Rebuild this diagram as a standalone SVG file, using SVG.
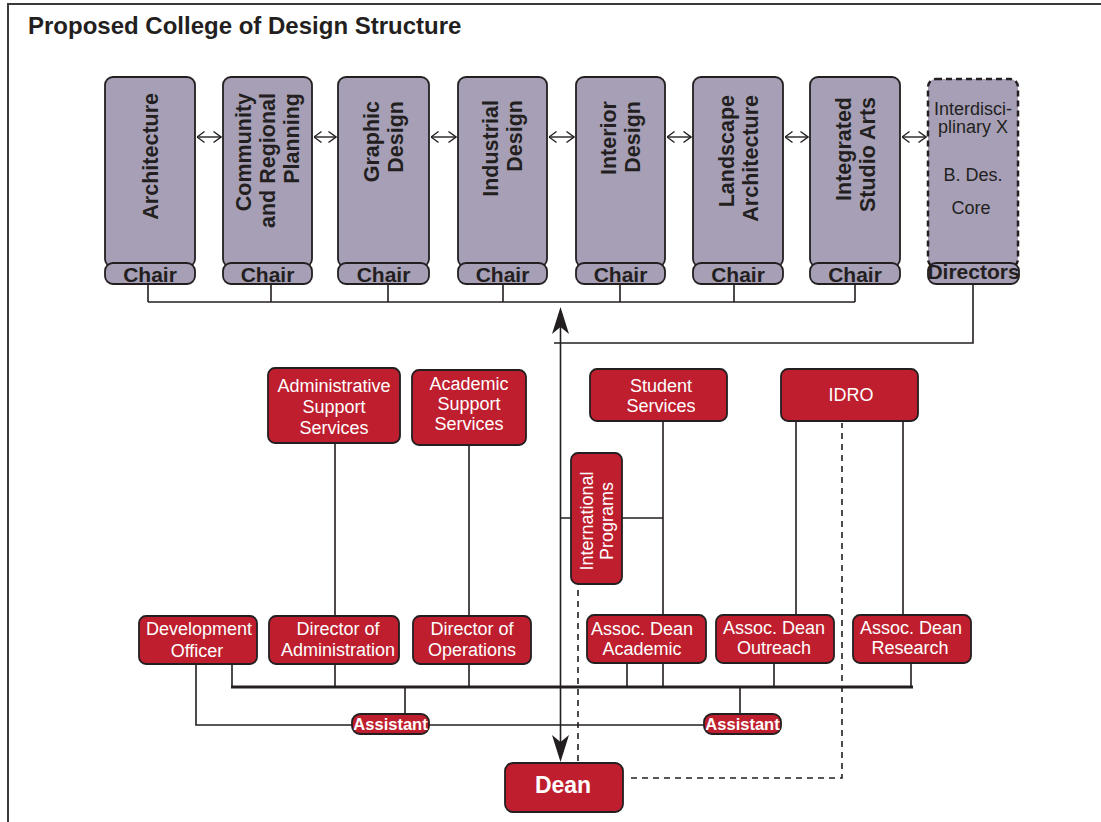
<svg xmlns="http://www.w3.org/2000/svg" width="1101" height="822" viewBox="0 0 1101 822">
<defs>
<style>
.frame{fill:#fff;stroke:#3a3a3a;stroke-width:2}
.title{font-family:"Liberation Sans",Arial,sans-serif;font-weight:bold;font-size:24px;fill:#231f20}
.col{fill:#a69fb6;stroke:#231f20;stroke-width:1.8}
.dash{fill:#a69fb6;stroke:#231f20;stroke-width:2.5;stroke-dasharray:6 4}
.ctext{font-family:"Liberation Sans",Arial,sans-serif;font-weight:bold;font-size:21.5px;fill:#231f20}
.chair{font-family:"Liberation Sans",Arial,sans-serif;font-weight:bold;font-size:21px;fill:#231f20;text-anchor:middle}
.itext{font-family:"Liberation Sans",Arial,sans-serif;font-size:18px;fill:#231f20;text-anchor:middle}
.red{fill:#be1e2d;stroke:#231f20;stroke-width:1.8}
.rtext{font-family:"Liberation Sans",Arial,sans-serif;font-size:18px;fill:#fff;text-anchor:middle}
.atext{font-family:"Liberation Sans",Arial,sans-serif;font-weight:bold;font-size:16.5px;fill:#fff;text-anchor:middle}
.dtext{font-family:"Liberation Sans",Arial,sans-serif;font-weight:bold;font-size:23px;fill:#fff;text-anchor:middle}
.ln{fill:none;stroke:#231f20;stroke-width:1.6}
.dbl{fill:none;stroke:#231f20;stroke-width:1.4}
.bus{fill:none;stroke:#231f20;stroke-width:3}
.dl{fill:none;stroke:#231f20;stroke-width:1.6;stroke-dasharray:6 5}
.head{fill:#231f20;stroke:none}
</style>
<marker id="oa" viewBox="0 0 10 14" refX="9.5" refY="7" markerWidth="10" markerHeight="14" markerUnits="userSpaceOnUse" orient="auto-start-reverse">
<path d="M2,1.5 L9.5,7 L2,12.5" fill="none" stroke="#231f20" stroke-width="1.4"/>
</marker>
</defs>

<rect class="frame" x="8" y="4" width="1110" height="840"/>
<text class="title" x="28" y="34">Proposed College of Design Structure</text>

<g id="connectors">
<line class="dbl" x1="197" y1="137" x2="221" y2="137" marker-start="url(#oa)" marker-end="url(#oa)"/>
<line class="dbl" x1="314" y1="137" x2="336" y2="137" marker-start="url(#oa)" marker-end="url(#oa)"/>
<line class="dbl" x1="431" y1="137" x2="456" y2="137" marker-start="url(#oa)" marker-end="url(#oa)"/>
<line class="dbl" x1="549" y1="137" x2="574" y2="137" marker-start="url(#oa)" marker-end="url(#oa)"/>
<line class="dbl" x1="667" y1="137" x2="691" y2="137" marker-start="url(#oa)" marker-end="url(#oa)"/>
<line class="dbl" x1="785" y1="137" x2="808" y2="137" marker-start="url(#oa)" marker-end="url(#oa)"/>
<line class="dbl" x1="902" y1="137" x2="926" y2="137" marker-start="url(#oa)" marker-end="url(#oa)"/>
<path class="ln" d="M148,284 V302 M271,284 V302 M388,284 V302 M503,284 V302 M620,284 V302 M734,284 V302 M855,284 V302 M148,302 H855"/>
<path class="ln" stroke-width="2.2" d="M973,284 V343 H554"/>
<line class="ln" stroke-width="2" x1="560.5" y1="320" x2="560.5" y2="750"/>
<path class="head" d="M560.5,307 L569,334 L560.5,327 L552,334 Z"/>
<path class="head" d="M560.5,762 L569,735 L560.5,742 L552,735 Z"/>
<path class="ln" d="M663,421 V687 M560,518 H663"/>
<path class="ln" d="M335,443 V616 M469,445 V616"/>
<path class="ln" d="M796,421 V616 M903,421 V616"/>
<path class="ln" d="M232,664 V687 M335,664 V687 M469,664 V687 M627,663 V687 M774,663 V687 M911,663 V687 M405,687 V714 M740,687 V714"/>
<line class="bus" x1="231" y1="687" x2="913" y2="687"/>
<path class="ln" d="M196,664 V725 H704"/>
<path class="dl" d="M578,590 V762"/>
<path class="dl" d="M631,778 H842 V423"/>
</g>

<g id="architecture">
<rect class="col" x="105" y="77" width="90" height="190" rx="8"/>
<rect class="col" x="105" y="263" width="90" height="21" rx="8"/>
<text class="ctext" transform="translate(150,93) rotate(-90)" text-anchor="end"><tspan x="0" y="7.5">Architecture</tspan></text>
<text class="chair" x="150" y="282">Chair</text>
</g>
<g id="community-regional-planning">
<rect class="col" x="223" y="77" width="89" height="190" rx="8"/>
<rect class="col" x="223" y="263" width="89" height="21" rx="8"/>
<text class="ctext" transform="translate(267.5,93) rotate(-90)" text-anchor="end"><tspan x="0" y="-16.5">Community</tspan><tspan x="0" y="7.5">and Regional</tspan><tspan x="0" y="31.5">Planning</tspan></text>
<text class="chair" x="267.5" y="282">Chair</text>
</g>
<g id="graphic-design">
<rect class="col" x="338" y="77" width="91" height="190" rx="8"/>
<rect class="col" x="338" y="263" width="91" height="21" rx="8"/>
<text class="ctext" transform="translate(383.5,101) rotate(-90)" text-anchor="end"><tspan x="0" y="-4.5">Graphic</tspan><tspan x="0" y="19.5">Design</tspan></text>
<text class="chair" x="383.5" y="282">Chair</text>
</g>
<g id="industrial-design">
<rect class="col" x="458" y="77" width="89" height="190" rx="8"/>
<rect class="col" x="458" y="263" width="89" height="21" rx="8"/>
<text class="ctext" transform="translate(502.5,100) rotate(-90)" text-anchor="end"><tspan x="0" y="-4.5">Industrial</tspan><tspan x="0" y="19.5">Design</tspan></text>
<text class="chair" x="502.5" y="282">Chair</text>
</g>
<g id="interior-design">
<rect class="col" x="576" y="77" width="89" height="190" rx="8"/>
<rect class="col" x="576" y="263" width="89" height="21" rx="8"/>
<text class="ctext" transform="translate(620.5,101) rotate(-90)" text-anchor="end"><tspan x="0" y="-4.5">Interior</tspan><tspan x="0" y="19.5">Design</tspan></text>
<text class="chair" x="620.5" y="282">Chair</text>
</g>
<g id="landscape-architecture">
<rect class="col" x="693" y="77" width="90" height="190" rx="8"/>
<rect class="col" x="693" y="263" width="90" height="21" rx="8"/>
<text class="ctext" transform="translate(738,95) rotate(-90)" text-anchor="end"><tspan x="0" y="-4.5">Landscape</tspan><tspan x="0" y="19.5">Architecture</tspan></text>
<text class="chair" x="738" y="282">Chair</text>
</g>
<g id="integrated-studio-arts">
<rect class="col" x="810" y="77" width="90" height="190" rx="8"/>
<rect class="col" x="810" y="263" width="90" height="21" rx="8"/>
<text class="ctext" transform="translate(855,97) rotate(-90)" text-anchor="end"><tspan x="0" y="-4.5">Integrated</tspan><tspan x="0" y="19.5">Studio Arts</tspan></text>
<text class="chair" x="855" y="282">Chair</text>
</g>
<g id="interdisciplinary">
<rect class="dash" x="928" y="79" width="90" height="188" rx="8"/>
<rect class="col" x="928" y="263" width="91" height="21" rx="8"/>
<text class="itext" x="973" y="115" font-size="16">Interdisci-</text>
<text class="itext" x="973" y="133" font-size="16">plinary X</text>
<text class="itext" x="973" y="181">B. Des.</text>
<text class="itext" x="971" y="214">Core</text>
<text class="chair" x="973.5" y="279" font-size="17.5">Directors</text>
</g>

<g id="admin-support">
<rect class="red" x="268" y="368" width="132" height="75" rx="7"/>
<text class="rtext" x="334" y="392">Administrative</text>
<text class="rtext" x="334" y="413">Support</text>
<text class="rtext" x="334" y="434">Services</text>
</g>
<g id="academic-support">
<rect class="red" x="412" y="370" width="114" height="75" rx="7"/>
<text class="rtext" x="469" y="390">Academic</text>
<text class="rtext" x="469" y="410">Support</text>
<text class="rtext" x="469" y="430">Services</text>
</g>
<g id="student-services">
<rect class="red" x="590" y="369" width="137" height="52" rx="7"/>
<text class="rtext" x="661" y="392">Student</text>
<text class="rtext" x="661" y="412">Services</text>
</g>
<g id="idro">
<rect class="red" x="781" y="369" width="137" height="52" rx="7"/>
<text class="rtext" x="851" y="401">IDRO</text>
</g>
<g id="international-programs">
<rect class="red" x="571" y="453" width="51" height="131" rx="7"/>
<text class="rtext" transform="translate(596.5,521) rotate(-90)"><tspan x="0" y="-3.5">International</tspan><tspan x="0" y="16.5">Programs</tspan></text>
</g>
<g id="development-officer">
<rect class="red" x="139" y="616" width="118" height="48" rx="7"/>
<text class="rtext" x="199" y="635">Development</text>
<text class="rtext" x="197" y="657" font-size="16">Officer</text>
</g>
<g id="director-administration">
<rect class="red" x="269" y="616" width="130" height="48" rx="7"/>
<text class="rtext" x="338" y="635">Director of</text>
<text class="rtext" x="338" y="656">Administration</text>
</g>
<g id="director-operations">
<rect class="red" x="413" y="616" width="118" height="48" rx="7"/>
<text class="rtext" x="472" y="635">Director of</text>
<text class="rtext" x="472" y="656">Operations</text>
</g>
<g id="assoc-dean-academic">
<rect class="red" x="587" y="615" width="119" height="48" rx="7"/>
<text class="rtext" x="642" y="635">Assoc. Dean</text>
<text class="rtext" x="642" y="655">Academic</text>
</g>
<g id="assoc-dean-outreach">
<rect class="red" x="716" y="615" width="118" height="48" rx="7"/>
<text class="rtext" x="774" y="634">Assoc. Dean</text>
<text class="rtext" x="774" y="654">Outreach</text>
</g>
<g id="assoc-dean-research">
<rect class="red" x="853" y="615" width="118" height="48" rx="7"/>
<text class="rtext" x="911" y="634">Assoc. Dean</text>
<text class="rtext" x="910" y="654">Research</text>
</g>
<g id="assistant-left">
<rect class="red" x="352" y="714" width="77" height="20" rx="8"/>
<text class="atext" x="390.5" y="730">Assistant</text>
</g>
<g id="assistant-right">
<rect class="red" x="704" y="714" width="77" height="20" rx="8"/>
<text class="atext" x="742.5" y="730">Assistant</text>
</g>
<g id="dean">
<rect class="red" x="505" y="763" width="118" height="49" rx="8" stroke-width="2.2"/>
<text class="dtext" x="563" y="793">Dean</text>
</g>
</svg>
